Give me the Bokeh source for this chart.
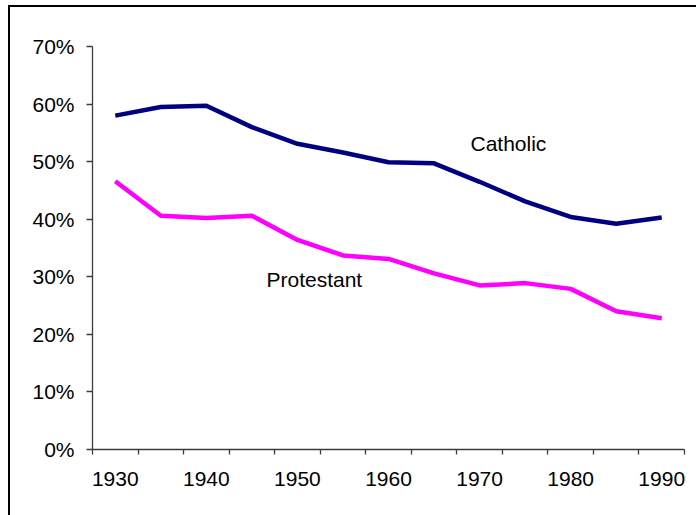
from bokeh.plotting import figure
from bokeh.models import Range1d, FixedTicker, PrintfTickFormatter, ColumnDataSource
from bokeh.core.properties import value
from bokeh.embed import file_html
from bokeh.resources import INLINE

# ---- data ----
years = [1930, 1935, 1940, 1945, 1950, 1955, 1960, 1965, 1970, 1975, 1980, 1985, 1990]
catholic = [58.0, 59.5, 59.7, 56.0, 53.1, 51.6, 49.9, 49.7, 46.5, 43.1, 40.4, 39.2, 40.3]
protestant = [46.6, 40.6, 40.2, 40.6, 36.4, 33.7, 33.1, 30.6, 28.5, 28.9, 27.9, 24.0, 22.8]
series_names = ["Catholic", "Protestant"]
x_tick_labels = [1930, 1940, 1950, 1960, 1970, 1980, 1990]
y_ticks = [0, 10, 20, 30, 40, 50, 60, 70]

FONT = "Liberation Sans"
FS = "21px"
AXIS_COLOR = "#3c3c3c"

step = years[1] - years[0]
x_lo = years[0] - step / 2
x_hi = years[-1] + step / 2

p = figure(
    width=696, height=515,
    x_range=Range1d(x_lo, x_hi), y_range=Range1d(y_ticks[0], y_ticks[-1]),
    output_backend="svg", toolbar_location=None,
    min_border_left=92, min_border_top=46, min_border_right=12, min_border_bottom=66,
)
p.outline_line_color = None
p.xgrid.grid_line_color = None
p.ygrid.grid_line_color = None
p.background_fill_color = "white"
p.border_fill_color = None
# outer chart-area frame (left and top edges visible)
p.styles = {
    "background-color": "white",
    "background-image": "linear-gradient(black, black), linear-gradient(black, black)",
    "background-size": "2px calc(100% - 5px), calc(100% - 8px) 2px",
    "background-position": "8px 5px, 8px 5px",
    "background-repeat": "no-repeat",
}

# x axis: labels every 10 years, small ticks at category boundaries
boundaries = [y - step / 2 for y in years] + [years[-1] + step / 2]
p.xaxis.ticker = FixedTicker(ticks=x_tick_labels, minor_ticks=boundaries)
p.xaxis.major_tick_out = 0
p.xaxis.major_tick_in = 0
p.xaxis.minor_tick_out = 5
p.xaxis.minor_tick_in = 0
p.xaxis.minor_tick_line_color = AXIS_COLOR
p.xaxis.minor_tick_line_width = 1.3
p.xaxis.major_label_standoff = 17

# y axis
p.yaxis.ticker = FixedTicker(ticks=y_ticks)
p.yaxis.formatter = PrintfTickFormatter(format="%d%%")
p.yaxis.major_tick_out = 6
p.yaxis.major_tick_in = 0
p.yaxis.minor_tick_line_color = None
p.yaxis.major_label_standoff = 12

for ax in (p.xaxis, p.yaxis):
    ax.axis_line_color = AXIS_COLOR
    ax.axis_line_width = 1.3
    ax.major_tick_line_color = AXIS_COLOR
    ax.major_tick_line_width = 1.3
    ax.major_label_text_font = FONT
    ax.major_label_text_font_size = FS
    ax.major_label_text_color = "black"

src = ColumnDataSource(dict(year=years, cath=catholic, prot=protestant))
p.line("year", "cath", source=src, line_color="#000080", line_width=4.5)
p.line("year", "prot", source=src, line_color="#FF00FF", line_width=4.5)

# series labels
lab = ColumnDataSource(dict(x=[1969.0, 1946.6], y=[53.2, 29.6], t=series_names))
p.text("x", "y", text="t", source=lab, text_font=value(FONT), text_font_size=FS,
       text_color="black", text_baseline="alphabetic", text_align="left")

open("out.html", "w").write(file_html(p, INLINE))
